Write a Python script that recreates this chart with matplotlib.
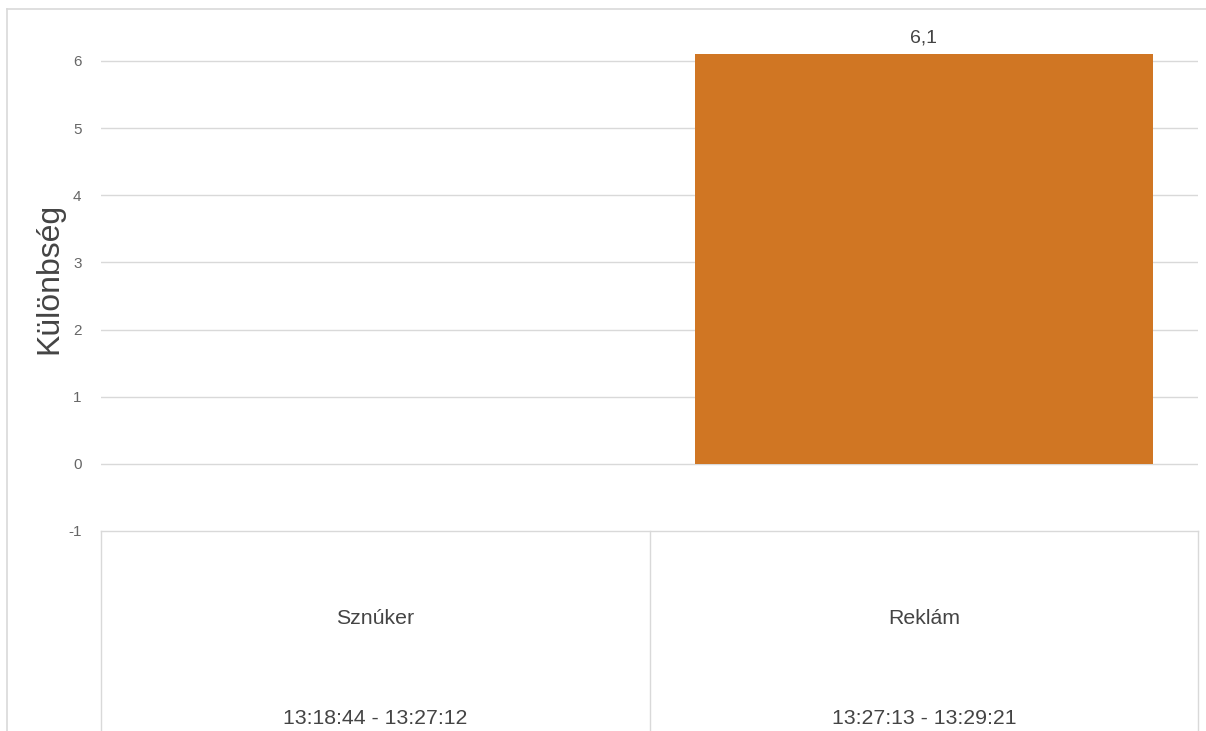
import matplotlib
matplotlib.use("Agg")
import matplotlib.pyplot as plt
from matplotlib.lines import Line2D

categories = ["Sznúker", "Reklám"]
time_ranges = ["13:18:44 - 13:27:12", "13:27:13 - 13:29:21"]
values = [0.0, 6.1]
value_labels = ["", "6,1"]
yticks = [-1, 0, 1, 2, 3, 4, 5, 6]
ylabel = "Különbség"

plt.rcParams['font.family'] = ['Liberation Sans', 'DejaVu Sans']

W, H = 1206, 731
fig = plt.figure(figsize=(W / 100, H / 100), dpi=100)

# pixel geometry
px_left, px_right = 101, 1198
px_y6, px_ym1 = 61, 531
ppu = (px_ym1 - px_y6) / 7.0
ax_top_px = 30
ymin = -1 - (H - px_ym1) / ppu
ymax = 6 + (px_y6 - ax_top_px) / ppu

ax = fig.add_axes([px_left / W, 0, (px_right - px_left) / W, (H - ax_top_px) / H])
ax.set_xlim(-0.5, len(categories) - 0.5)
ax.set_ylim(ymin, ymax)
for s in ax.spines.values():
    s.set_visible(False)

grid_c = "#d9d9d9"
for t in yticks:
    if t >= 0:
        ax.axhline(t, color=grid_c, lw=1, zorder=0)
ax.set_yticks(yticks)
ax.set_yticklabels([str(t) for t in yticks], fontsize=11, color="#666666")
ax.tick_params(axis="y", length=0, pad=14)
ax.set_xticks([])

bar_c = "#D07623"
x = list(range(len(categories)))
ax.bar(x, values, width=0.835, color=bar_c, zorder=2)
for xi, v, lab in zip(x, values, value_labels):
    if lab:
        ax.text(xi, v + 0.12, lab, ha="center", va="bottom", fontsize=14, color="#444444")

# table below
ax.plot([-0.5, len(categories) - 0.5], [-1, -1], color=grid_c, lw=1, clip_on=False)
for b in [i - 0.5 for i in range(len(categories) + 1)]:
    ax.plot([b, b], [-1, ymin], color=grid_c, lw=1, clip_on=False)
y_cat = -1 - (619 - px_ym1) / ppu
y_time = -1 - (718 - px_ym1) / ppu
for xi, c, t in zip(x, categories, time_ranges):
    ax.text(xi, y_cat, c, ha="center", va="center", fontsize=15.3, color="#444444")
    ax.text(xi, y_time, t, ha="center", va="center", fontsize=15.3, color="#444444")

ax.set_ylabel(ylabel, fontsize=23, color="#444444")
ax.yaxis.set_label_coords((64 - px_left) / (px_right - px_left), (H - 278) / (H - ax_top_px))

# outer frame (left and top)
fig.add_artist(Line2D([7 / W, 7 / W], [0, 1 - 9 / H], color=grid_c, lw=1.2, transform=fig.transFigure))
fig.add_artist(Line2D([7 / W, 1], [1 - 9 / H, 1 - 9 / H], color=grid_c, lw=1.2, transform=fig.transFigure))

fig.savefig("out.png", dpi=100, facecolor="white")
